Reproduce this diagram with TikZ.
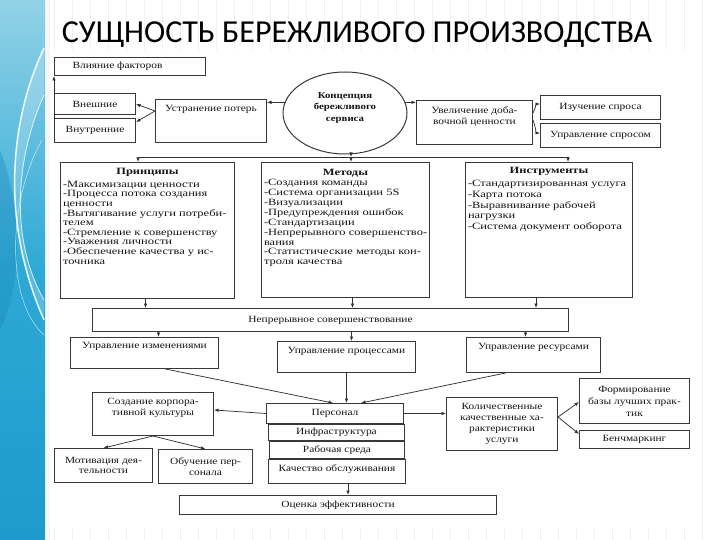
\documentclass[tikz,border=0pt]{standalone}
\usepackage{fontspec}
\setmainfont{Liberation Serif}
\newfontfamily\dfont{Liberation Serif}[FakeStretch=1.2]
\newfontfamily\bfont{Liberation Serif}[FakeStretch=1.3]
\newfontfamily\tfont{Carlito}
\usetikzlibrary{arrows.meta,shapes.geometric}
\definecolor{bandA}{HTML}{92D2E7}
\definecolor{bandB}{HTML}{2EA9D6}
\definecolor{bandC}{HTML}{1E9ACC}
\definecolor{bandD}{HTML}{1A86BA}
\newcommand\pbx[4]{\parbox[c][#2pt][#3]{#1pt}{#4}}
\begin{document}
\begin{tikzpicture}[x=1pt,y=-1pt,
  box/.style={draw=black!78, line width=1pt, fill=white, inner sep=0pt, anchor=north west},
  arr/.style={draw=black!80, line width=0.75pt, -{Latex[length=4.5pt,width=3.6pt]}},
  ln/.style={draw=black!80, line width=0.75pt},
  font=\dfont\fontsize{9.5}{10.5}\selectfont, text=black!92]
\useasboundingbox (0,0) rectangle (720,540);
% background
\fill[white] (0,0) rectangle (720,540);
\draw[gray!12, line width=0.4pt, step=18] (48,0) grid (720,540);
\fill[white] (50,50) rectangle (700,528);
\fill[gray!6] (45,0) rectangle (50,540);
% left band
\shade[top color=bandA, bottom color=bandC, middle color=bandB] (0,0) rectangle (45,540);
\fill[bandD, opacity=0.35] (0,150) .. controls (20,200) and (25,280) .. (0,330) -- cycle;
\fill[white, opacity=0.22] (44,48) .. controls (10,120) and (0,220) .. (44,320) -- (44,300) .. controls (10,240) and (15,160) .. (44,95) -- cycle;
\draw[white, line width=1.5pt, opacity=0.9] (44,48) .. controls (10,120) and (0,220) .. (44,320);
\draw[white, line width=0.8pt, opacity=0.8] (44,95) .. controls (15,160) and (10,240) .. (44,300);
\draw[white, line width=0.5pt, opacity=0.7] (42,140) .. controls (8,200) and (5,300) .. (44,335);
% title
\node[font=\tfont\fontsize{32}{32}\selectfont, text=black, anchor=base] (title) at (357,43) {СУЩНОСТЬ БЕРЕЖЛИВОГО ПРОИЗВОДСТВА};
% top row
\node[box] (vf) at (54,57) {\pbx{151}{18}{c}{\hspace*{18pt}Влияние факторов}};
\node[box] (vn) at (54,93) {\pbx{81}{21}{c}{\centering Внешние}};
\node[box] (vt) at (54,118) {\pbx{81}{24}{c}{\centering Внутренние}};
\node[box] (up) at (155,99) {\pbx{111}{43}{t}{\vspace*{6pt}\centering Устранение потерь}};
\node[draw=black!78, line width=1pt, ellipse, fill=white, minimum width=124, minimum height=82, inner sep=0pt,
  font=\dfont\bfseries\fontsize{9}{11}\selectfont] (el) at (345,113)
  {\smash{\raisebox{3pt}{\begin{tabular}{@{}c@{}}Концепция\\[0.5pt]бережливого\\[0.5pt]сервиса\end{tabular}}}};
\node[box] (uv) at (416,100) {\pbx{116}{44}{t}{\fontsize{9.5}{11}\selectfont\vspace*{6pt}\centering Увеличение доба-\\вочной ценности}};
\node[box] (iz) at (540,95) {\pbx{120}{24}{c}{\centering Изучение спроса}};
\node[box] (us) at (540,123) {\pbx{120}{24}{c}{\centering Управление спросом}};
% three big boxes
\node[box] (pr) at (60,162) {\pbx{174}{136}{t}{\bfont\fontsize{9.6}{9.6}\selectfont\vspace*{6pt}\centering\textbf{Принципы}\par\vspace{3pt}\raggedright\leftskip=2.5pt
-Максимизации ценности\\
-Процесса потока создания\\
ценности\\
-Вытягивание услуги потреби-\\
телем\\
-Стремление к совершенству\\
-Уважения личности\\
-Обеспечение качества у ис-\\
точника}};
\node[box] (me) at (261,162) {\pbx{168}{135}{t}{\bfont\fontsize{9.6}{9.9}\selectfont\vspace*{7pt}\centering\textbf{Методы}\par\raggedright\leftskip=2.5pt
-Создания команды\\
-Система организации 5S\\
-Визуализации\\
-Предупреждения ошибок\\
-Стандартизации\\
-Непрерывного совершенство-\\
вания\\
-Статистические методы кон-\\
троля качества}};
\node[box] (in) at (465,162) {\pbx{167}{135}{t}{\bfont\fontsize{9.6}{10.8}\selectfont\vspace*{5pt}\centering\textbf{Инструменты}\par\vspace{2pt}\raggedright\leftskip=2.5pt
-Стандартизированная услуга\\
-Карта потока\\
-Выравнивание рабочей\\
нагрузки\\
-Система документ ооборота}};
% bar and row 3
\node[box] (nc) at (92,308) {\pbx{476}{23}{c}{\centering Непрерывное совершенствование}};
\node[box] (ui) at (70,337) {\pbx{148}{31}{t}{\vspace*{5pt}\centering Управление изменениями}};
\node[box] (upr) at (277,341) {\pbx{138}{31}{t}{\vspace*{6pt}\centering Управление процессами}};
\node[box] (ur) at (466,337) {\pbx{134}{35}{t}{\vspace*{6pt}\centering Управление ресурсами}};
% bottom
\node[box] (ck) at (92,392) {\pbx{121}{43}{t}{\fontsize{9.5}{11}\selectfont\vspace*{6pt}\centering Создание корпора-\\тивной культуры}};
\node[box] (mo) at (54,448) {\pbx{98}{34}{c}{\centering Мотивация дея-\\тельности}};
\node[box] (ob) at (158,449) {\pbx{94}{34}{c}{\centering Обучение пер-\\сонала}};
\node[box] (ps) at (266,403) {\pbx{137}{20}{c}{\centering Персонал}};
\node[box] (inf) at (268,424) {\pbx{136}{16}{c}{\centering Инфраструктура}};
\node[box] (rs) at (269,441) {\pbx{135}{17}{c}{\centering Рабочая среда}};
\node[box] (ko) at (268,459) {\pbx{137}{24}{t}{\vspace*{5pt}\centering Качество обслуживания}};
\node[box] (oc) at (179,495) {\pbx{317}{19}{c}{\centering Оценка эффективности}};
\node[box] (kk) at (446,397) {\pbx{111}{53}{c}{\fontsize{9.5}{11}\selectfont\centering Количественные\\качественные ха-\\рактеристики\\услуги}};
\node[box] (fb) at (579,378) {\pbx{110}{45}{c}{\fontsize{9.5}{12}\selectfont\centering Формирование\\базы лучших прак-\\тик}};
\node[box] (bm) at (579,430) {\pbx{110}{18}{c}{\centering Бенчмаркинг}};
% connectors top
\draw[arr] (vt.south west) -- (vf.south west);
\coordinate (upL) at ([yshift=-12pt]up.north west);
\draw[arr] (upL) -- (vn.east);
\draw[arr] (upL) -- ([yshift=-4pt]vt.north east);
\draw[arr] (el.170) -- (up.east |- el.170);
\draw[arr] (el.10) -- (uv.west |- el.10);
\coordinate (uvA) at ([yshift=-13pt]uv.north east);
\coordinate (uvB) at ([yshift=-20pt]uv.north east);
\draw[arr] (uvA) .. controls +(3,-6) and +(-4,0) .. ([yshift=-9pt]iz.north west);
\draw[arr] (uvB) .. controls +(3,8) and +(-4,0) .. ([yshift=-10pt]us.north west);
\coordinate (hL) at (138,157);
\coordinate (hR) at (568,157);
\coordinate (elS) at ([xshift=6pt]el.south);
\draw[ln] (hL) -- (hR);
\draw[arr] (hL) -- (hL |- pr.north);
\draw[arr] (hR) -- (hR |- in.north);
\draw[arr] (elS) -- (elS |- hL);
\draw[arr] (elS |- hL) -- (elS |- me.north);
% big boxes to bar
\draw[arr] ([xshift=-2pt]pr.south) -- ([xshift=-2pt]pr.south |- nc.north);
\draw[arr] ([xshift=7pt]me.south) -- ([xshift=7pt]me.south |- nc.north);
\draw[arr] ([xshift=-13pt]in.south) -- ([xshift=-13pt]in.south |- nc.north);
% bar to row 3
\draw[arr] ([xshift=14pt]ui.north |- nc.south) -- ([xshift=14pt]ui.north);
\draw[arr] ([xshift=5pt]upr.north |- nc.south) -- ([xshift=5pt]upr.north);
\draw[arr] ([xshift=-8pt]ur.north |- nc.south) -- ([xshift=-8pt]ur.north);
% row 3 to personnel
\draw[arr] ([xshift=21pt]ui.south) -- ([xshift=-2pt]ps.north);
\draw[arr] (upr.south) -- (upr.south |- ps.north);
\draw[arr] ([xshift=-28pt]ur.south) -- ([xshift=26pt]ps.north);
% bottom connectors
\draw[arr] (ps.west) -- ([yshift=-18pt]ck.north east);
\draw[arr] (ck.south) -- (mo.north);
\draw[arr] (ck.south) -- (ob.north);
\draw[arr] (ps.east) -- (kk.west |- ps.east);
\coordinate (kkR) at ([yshift=-20pt]kk.north east);
\draw[arr] (kkR) -- ([yshift=-24pt]fb.north west);
\draw[arr] (kkR) -- ([yshift=-4pt]bm.north west);
\draw[arr] ([xshift=11pt]ko.south) -- ([xshift=11pt]ko.south |- oc.north);
\end{tikzpicture}
\end{document}
